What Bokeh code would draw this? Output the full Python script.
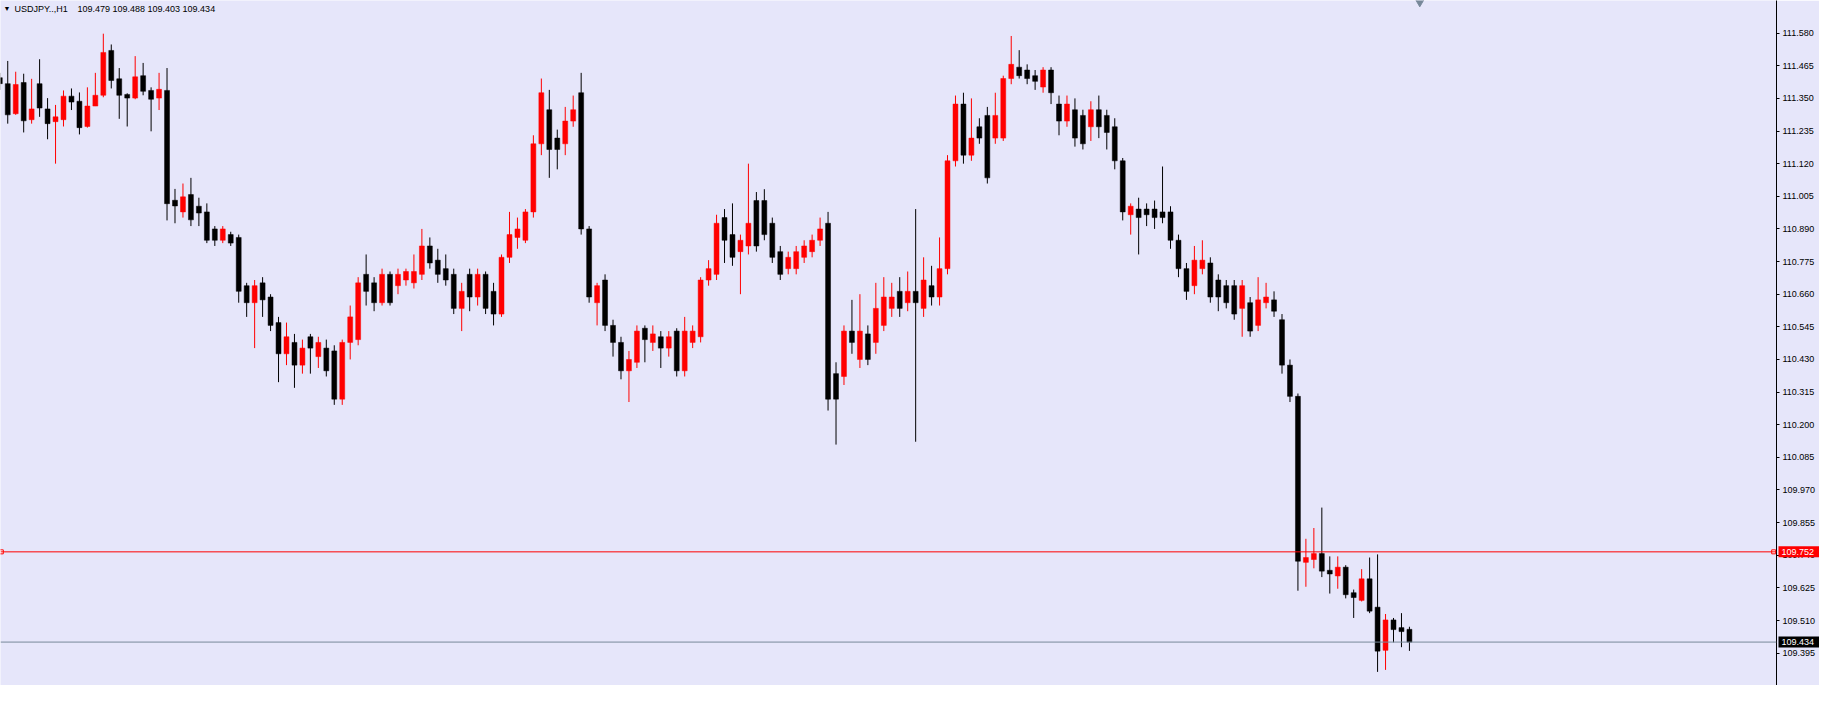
from bokeh.plotting import figure
from bokeh.models import Range1d, FixedTicker, Label, Span, NumeralTickFormatter, ColumnDataSource, GridBox
from bokeh.embed import file_html
from bokeh.resources import INLINE
from bokeh.core.properties import value

# ---- data (USDJPY H1) ----
opens = [
    111.423, 111.402, 111.296, 111.406, 111.275, 111.402, 111.313, 111.268, 111.275, 111.358,
    111.340, 111.251, 111.323, 111.361, 111.519, 111.419, 111.364, 111.351, 111.430, 111.378,
    111.351, 111.378, 110.991, 110.950, 111.011, 110.970, 110.950, 110.890, 110.850, 110.870,
    110.860, 110.690, 110.630, 110.700, 110.650, 110.560, 110.450, 110.490, 110.410, 110.510,
    110.440, 110.470, 110.460, 110.290, 110.490, 110.500, 110.730, 110.700, 110.630, 110.730,
    110.690, 110.710, 110.700, 110.730, 110.830, 110.780, 110.750, 110.730, 110.610, 110.730,
    110.650, 110.730, 110.670, 110.590, 110.790, 110.860, 110.850, 110.950, 111.190, 111.310,
    111.210, 111.190, 111.270, 111.370, 110.890, 110.630, 110.710, 110.550, 110.490, 110.390,
    110.420, 110.540, 110.490, 110.510, 110.470, 110.530, 110.390, 110.490, 110.510, 110.710,
    110.730, 110.930, 110.870, 110.810, 110.830, 110.990, 110.990, 110.910, 110.810, 110.750,
    110.750, 110.790, 110.810, 110.850, 110.910, 110.380, 110.370, 110.530, 110.430, 110.520,
    110.490, 110.550, 110.610, 110.670, 110.630, 110.670, 110.610, 110.690, 110.650, 110.750,
    111.130, 111.330, 111.150, 111.250, 111.290, 111.210, 111.210, 111.420, 111.460, 111.450,
    111.430, 111.390, 111.450, 111.330, 111.270, 111.310, 111.290, 111.250, 111.310, 111.290,
    111.250, 111.130, 110.940, 110.960, 110.960, 110.960, 110.950, 110.950, 110.850, 110.750,
    110.690, 110.750, 110.770, 110.710, 110.690, 110.690, 110.610, 110.630, 110.550, 110.630,
    110.640, 110.570, 110.410, 110.300, 109.715, 109.725, 109.746, 109.687, 109.667, 109.698,
    109.608, 109.581, 109.657, 109.557, 109.405, 109.512, 109.485, 109.479,
]
highs = [
    111.440, 111.482, 111.444, 111.437, 111.419, 111.488, 111.351, 111.327, 111.378, 111.385,
    111.371, 111.389, 111.440, 111.578, 111.540, 111.457, 111.368, 111.499, 111.475, 111.389,
    111.440, 111.457, 111.031, 111.050, 111.070, 111.000, 110.980, 110.900, 110.900, 110.880,
    110.870, 110.700, 110.710, 110.720, 110.660, 110.580, 110.560, 110.520, 110.500, 110.520,
    110.510, 110.500, 110.480, 110.500, 110.620, 110.720, 110.800, 110.720, 110.750, 110.740,
    110.750, 110.750, 110.800, 110.890, 110.860, 110.820, 110.800, 110.750, 110.700, 110.750,
    110.750, 110.740, 110.700, 110.800, 110.950, 110.930, 110.960, 111.220, 111.420, 111.380,
    111.240, 111.320, 111.360, 111.440, 110.900, 110.700, 110.730, 110.570, 110.510, 110.460,
    110.550, 110.550, 110.550, 110.530, 110.530, 110.540, 110.580, 110.550, 110.720, 110.780,
    110.940, 110.960, 110.980, 110.870, 111.120, 111.020, 111.030, 110.930, 110.830, 110.810,
    110.830, 110.850, 110.870, 110.930, 110.950, 110.420, 110.550, 110.640, 110.660, 110.550,
    110.700, 110.720, 110.700, 110.720, 110.740, 110.960, 110.790, 110.760, 110.860, 111.150,
    111.360, 111.370, 111.350, 111.280, 111.320, 111.370, 111.430, 111.570, 111.520, 111.470,
    111.450, 111.460, 111.460, 111.360, 111.360, 111.350, 111.310, 111.340, 111.360, 111.310,
    111.280, 111.140, 110.980, 111.000, 110.980, 110.990, 111.110, 110.970, 110.870, 110.770,
    110.830, 110.850, 110.790, 110.730, 110.710, 110.710, 110.710, 110.650, 110.720, 110.700,
    110.670, 110.590, 110.430, 110.310, 109.798, 109.836, 109.908, 109.736, 109.736, 109.705,
    109.619, 109.691, 109.732, 109.743, 109.533, 109.519, 109.536, 109.488,
]
lows = [
    111.380, 111.261, 111.292, 111.230, 111.261, 111.285, 111.206, 111.120, 111.251, 111.309,
    111.223, 111.247, 111.323, 111.354, 111.385, 111.278, 111.251, 111.347, 111.361, 111.234,
    111.309, 110.920, 110.910, 110.930, 110.900, 110.900, 110.840, 110.830, 110.840, 110.830,
    110.630, 110.580, 110.470, 110.580, 110.530, 110.350, 110.410, 110.330, 110.380, 110.380,
    110.400, 110.370, 110.270, 110.270, 110.430, 110.480, 110.620, 110.600, 110.620, 110.620,
    110.660, 110.690, 110.680, 110.710, 110.750, 110.700, 110.690, 110.590, 110.530, 110.600,
    110.620, 110.590, 110.550, 110.580, 110.770, 110.820, 110.840, 110.930, 111.150, 111.070,
    111.100, 111.150, 111.250, 110.870, 110.630, 110.550, 110.530, 110.440, 110.360, 110.280,
    110.400, 110.420, 110.460, 110.400, 110.440, 110.370, 110.370, 110.470, 110.490, 110.690,
    110.710, 110.770, 110.760, 110.660, 110.800, 110.810, 110.850, 110.770, 110.710, 110.730,
    110.730, 110.770, 110.790, 110.830, 110.250, 110.130, 110.340, 110.450, 110.400, 110.410,
    110.450, 110.530, 110.580, 110.580, 110.600, 110.140, 110.580, 110.620, 110.620, 110.730,
    111.110, 111.120, 111.130, 111.190, 111.050, 111.190, 111.200, 111.400, 111.420, 111.400,
    111.380, 111.370, 111.330, 111.220, 111.250, 111.180, 111.170, 111.200, 111.210, 111.170,
    111.100, 110.920, 110.870, 110.800, 110.900, 110.890, 110.910, 110.820, 110.720, 110.640,
    110.660, 110.730, 110.630, 110.600, 110.610, 110.570, 110.510, 110.510, 110.530, 110.610,
    110.580, 110.380, 110.280, 109.615, 109.629, 109.694, 109.663, 109.605, 109.622, 109.588,
    109.519, 109.577, 109.536, 109.329, 109.336, 109.433, 109.416, 109.403,
]
closes = [
    111.402, 111.292, 111.399, 111.271, 111.313, 111.316, 111.261, 111.285, 111.358, 111.337,
    111.247, 111.323, 111.361, 111.512, 111.413, 111.361, 111.351, 111.426, 111.375, 111.347,
    111.382, 110.979, 110.971, 111.003, 110.922, 110.946, 110.850, 110.850, 110.890, 110.840,
    110.670, 110.630, 110.690, 110.640, 110.550, 110.450, 110.510, 110.410, 110.470, 110.470,
    110.490, 110.390, 110.290, 110.490, 110.580, 110.700, 110.670, 110.630, 110.730, 110.630,
    110.730, 110.740, 110.740, 110.830, 110.770, 110.730, 110.710, 110.610, 110.670, 110.650,
    110.730, 110.610, 110.590, 110.790, 110.870, 110.890, 110.950, 111.190, 111.370, 111.170,
    111.170, 111.270, 111.310, 110.890, 110.650, 110.690, 110.550, 110.490, 110.390, 110.430,
    110.530, 110.500, 110.520, 110.470, 110.510, 110.390, 110.530, 110.530, 110.710, 110.750,
    110.910, 110.850, 110.790, 110.850, 110.910, 110.830, 110.870, 110.790, 110.730, 110.790,
    110.810, 110.830, 110.850, 110.890, 110.290, 110.290, 110.530, 110.490, 110.530, 110.430,
    110.610, 110.650, 110.650, 110.610, 110.670, 110.630, 110.710, 110.650, 110.750, 111.130,
    111.330, 111.150, 111.210, 111.210, 111.070, 111.290, 111.420, 111.470, 111.430, 111.420,
    111.410, 111.450, 111.370, 111.270, 111.330, 111.210, 111.190, 111.310, 111.250, 111.230,
    111.130, 110.950, 110.970, 110.930, 110.940, 110.930, 110.930, 110.850, 110.750, 110.670,
    110.780, 110.780, 110.650, 110.650, 110.630, 110.590, 110.690, 110.530, 110.640, 110.650,
    110.600, 110.410, 110.300, 109.719, 109.732, 109.746, 109.684, 109.674, 109.698, 109.601,
    109.591, 109.657, 109.543, 109.402, 109.512, 109.478, 109.471, 109.434,
]

price_ticks = [111.580, 111.465, 111.350, 111.235, 111.120, 111.005, 110.890, 110.775,
               110.660, 110.545, 110.430, 110.315, 110.200, 110.085, 109.970, 109.855,
               109.740, 109.625, 109.510, 109.395, 109.280]
symbol_label = "USDJPY..,H1"
ohlc_label = "109.479 109.488 109.403 109.434"
level_price = 109.752
bid_price = 109.434

BG = "#E6E6FA"
FONT = "Liberation Sans"

n = len(opens)
idx = list(range(n))
colors = ["#FF0000" if c >= o else "#000000" for o, c in zip(opens, closes)]
tops = [max(o, c) for o, c in zip(opens, closes)]
bots = [min(o, c) for o, c in zip(opens, closes)]
src = ColumnDataSource(dict(x=idx, o=opens, h=highs, l=lows, c=closes,
                            top=tops, bot=bots, color=colors))

FW, FH, RB = 1776, 685, 43
TW = FW + RB
yr = Range1d(109.281, 111.695)
p = figure(frame_width=FW, frame_height=FH, output_backend="svg", toolbar_location=None,
           x_range=Range1d(0.09, 223.09), y_range=yr,
           y_axis_location="right", min_border_left=0, min_border_top=0,
           min_border_bottom=0, min_border_right=RB)
p.background_fill_color = BG
p.border_fill_color = BG
p.outline_line_color = None
p.xgrid.visible = False
p.ygrid.visible = False
p.xaxis.visible = False

ax = p.yaxis[0]
ax.ticker = FixedTicker(ticks=price_ticks)
ax.formatter = NumeralTickFormatter(format="0.000")
ax.axis_line_color = "black"
ax.major_tick_line_color = "black"
ax.major_tick_in = 0
ax.major_tick_out = 3
ax.minor_tick_out = 0
ax.minor_tick_in = 0
ax.major_label_standoff = 3
ax.major_label_text_font = FONT
ax.major_label_text_font_size = "9px"
ax.major_label_text_color = "black"

# horizontal lines
p.add_layout(Span(location=level_price, dimension="width", line_color="#FF0000", line_width=1))
p.add_layout(Span(location=bid_price, dimension="width", line_color="#778899", line_width=1))

# candles
p.segment(x0="x", y0="l", x1="x", y1="h", color="color", line_width=1, source=src)
p.vbar(x="x", width=0.62, top="top", bottom="bot", fill_color="color", line_color="color",
       line_width=0.5, source=src)

# level line end markers
p.scatter(x=[p.x_range.start + 0.1, p.x_range.end - 0.35], y=[level_price, level_price],
          marker="square", size=4, fill_color="white", line_color="#FF0000", line_width=1)

# chart shift marker at top
p.scatter(x=[n + 0.3], y=[yr.end], marker="inverted_triangle", size=11, color="#778899")

# header
p.add_layout(Label(x=3, y=FH - 8, x_units="screen", y_units="screen", text="\u25BC",
                   text_font_size="7px", text_color="black", text_baseline="middle",
                   text_font=FONT))
p.add_layout(Label(x=14, y=FH - 8, x_units="screen", y_units="screen", text=symbol_label,
                   text_font_size="9px", text_color="black", text_baseline="middle",
                   text_font=FONT))
p.add_layout(Label(x=77, y=FH - 8, x_units="screen", y_units="screen", text=ohlc_label,
                   text_font_size="9px", text_color="black", text_baseline="middle",
                   text_font=FONT))

# ---- transparent overlay that carries the price boxes over the axis area ----
p2 = figure(width=TW, height=FH, output_backend="svg", toolbar_location=None,
            x_range=Range1d(0, TW), y_range=yr, x_axis_location=None,
            y_axis_location=None, min_border=0, min_border_left=0, min_border_right=0,
            min_border_top=0, min_border_bottom=0)
for fig in (p, p2):
    try:
        fig.frame_align = False
    except Exception:
        pass
p2.background_fill_alpha = 0
p2.border_fill_alpha = 0
p2.outline_line_color = None
p2.xgrid.visible = False
p2.ygrid.visible = False
box_prices = [level_price, bid_price]
box_colors = ["#FF0000", "#000000"]
box_src = ColumnDataSource(dict(x=[FW + 2 + 20.5] * 2, tx=[FW + 5] * 2, y=box_prices,
                                c=box_colors, t=["%.3f" % v for v in box_prices]))
p2.rect(x="x", y="y", width=41, height=11, height_units="screen", fill_color="c",
        line_color=None, source=box_src)
p2.text(x="tx", y="y", text="t", text_color="white", text_font=value(FONT),
        text_font_size="9px", text_baseline="middle", text_align="left", source=box_src)

layout = GridBox(children=[(p, 0, 0), (p2, 0, 0)])
open("out.html", "w").write(file_html(layout, INLINE))
